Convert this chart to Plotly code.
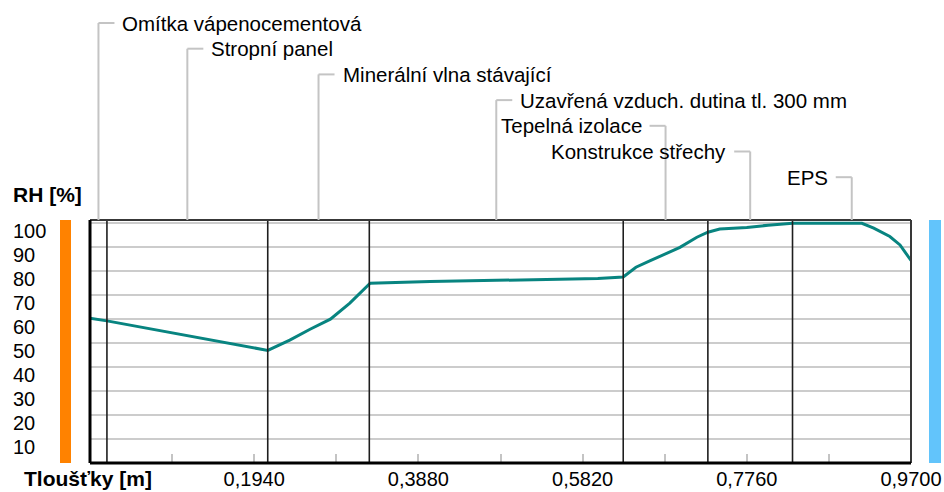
import plotly.graph_objects as go

# Layer build-up of the roof section (thickness in metres)
layer_names = [
    "Omítka vápenocementová",
    "Stropní panel",
    "Minerální vlna stávající",
    "Uzavřená vzduch. dutina tl. 300 mm",
    "Tepelná izolace",
    "Konstrukce střechy",
    "EPS",
]
layer_edges = [0.0, 0.02, 0.21, 0.33, 0.63, 0.73, 0.83, 0.97]

# Relative humidity profile through the section
depth_m = [0.000, 0.020, 0.210, 0.236, 0.260, 0.284, 0.307, 0.331,
           0.402, 0.494, 0.600, 0.630, 0.645, 0.662, 0.697, 0.717,
           0.730, 0.744, 0.776, 0.801, 0.824, 0.830, 0.912, 0.926,
           0.945, 0.957, 0.970]
rh_pct = [60.4, 59.3, 47.0, 51.3, 55.8, 60.0, 66.7, 75.0,
          75.7, 76.4, 77.0, 77.6, 81.7, 84.4, 90.0, 94.2,
          96.3, 97.6, 98.3, 99.2, 100.0, 100.0, 100.0, 98.0,
          94.5, 91.0, 84.5]

x_ticks = [0.097 * i for i in range(1, 11)]
y_ticks = [10, 20, 30, 40, 50, 60, 70, 80, 90, 100]

# Canvas geometry (pixels)
W, H = 944, 492
L, R, T, B = 90, 911, 220, 463
Y_TOP = 101.4
FONT = "Liberation Sans"


def px_x(p):
    return (p - L) / (R - L)


def px_y(p):
    return (B - p) / (B - T)


fig = go.Figure()
fig.add_trace(go.Scatter(
    x=depth_m, y=rh_pct, mode="lines",
    line=dict(color="#088480", width=3),
    hoverinfo="skip", showlegend=False,
))

shapes = []
annotations = []

# Layer boundaries
for e in layer_edges[1:-1]:
    shapes.append(dict(type="line", xref="x", yref="paper", x0=e, x1=e, y0=0, y1=1,
                       line=dict(color="#1e1e1e", width=1.6), layer="above"))

# Frame
shapes += [
    dict(type="line", xref="paper", yref="paper", x0=0, x1=1, y0=1, y1=1,
         line=dict(color="#383838", width=2)),
    dict(type="line", xref="paper", yref="paper", x0=1, x1=1, y0=0, y1=1,
         line=dict(color="#383838", width=2)),
    dict(type="line", xref="paper", yref="paper", x0=0, x1=0, y0=0, y1=1,
         line=dict(color="#000000", width=3)),
    dict(type="line", xref="paper", yref="paper", x0=0, x1=1, y0=0, y1=0,
         line=dict(color="#000000", width=3)),
]

# Side boundary-condition bars
shapes.append(dict(type="rect", xref="paper", yref="paper",
                   x0=px_x(60), x1=px_x(71), y0=px_y(463), y1=px_y(220),
                   fillcolor="#ff8200", line=dict(width=0)))
shapes.append(dict(type="rect", xref="paper", yref="paper",
                   x0=px_x(929), x1=px_x(941), y0=px_y(463), y1=px_y(220),
                   fillcolor="#62c4fb", line=dict(width=0)))

# Layer name labels with leader lines
for i, name in enumerate(layer_names):
    cx = (layer_edges[i] + layer_edges[i + 1]) / 2
    ly = px_y(23 + 25.7 * i)
    right = i < 4
    sgn = 1 if right else -1
    shapes.append(dict(type="line", xref="x", yref="paper", x0=cx, x1=cx, y0=1, y1=ly,
                       line=dict(color="#c4c4c4", width=2)))
    shapes.append(dict(type="line", xref="x", yref="paper", xsizemode="pixel", xanchor=cx,
                       x0=0, x1=16 * sgn, y0=ly, y1=ly,
                       line=dict(color="#c4c4c4", width=2)))
    annotations.append(dict(
        x=cx, y=ly, xref="x", yref="paper", text=name, showarrow=False,
        xanchor="left" if right else "right", yanchor="middle",
        xshift=22 * sgn, font=dict(family=FONT, size=20.5, color="#000"),
    ))

# Y tick labels, left aligned just below their gridlines
for v in y_ticks:
    annotations.append(dict(
        x=px_x(11), y=v, xref="paper", yref="y", text=str(v), showarrow=False,
        xanchor="left", yanchor="middle", yshift=-8,
        font=dict(family=FONT, size=20, color="#000"),
    ))

annotations.append(dict(x=px_x(11), y=px_y(194), xref="paper", yref="paper",
                        text="<b>RH [%]</b>", showarrow=False, xanchor="left",
                        yanchor="middle", font=dict(family=FONT, size=21, color="#000")))
annotations.append(dict(x=px_x(22), y=px_y(478), xref="paper", yref="paper",
                        text="<b>Tloušťky [m]</b>", showarrow=False, xanchor="left",
                        yanchor="middle", font=dict(family=FONT, size=21, color="#000")))

tick_text = [f"{v:.4f}".replace(".", ",") if i % 2 == 1 else "" for i, v in enumerate(x_ticks)]

fig.update_layout(
    width=W, height=H,
    margin=dict(l=L, r=W - R, t=T, b=H - B, pad=0, autoexpand=False),
    paper_bgcolor="white", plot_bgcolor="white",
    shapes=shapes, annotations=annotations,
    xaxis=dict(range=[0, layer_edges[-1]], tickvals=x_ticks, ticktext=tick_text,
               automargin=False, ticklabelstandoff=2,
               ticks="inside", ticklen=9, tickwidth=2, tickcolor="#c4c4c4",
               showgrid=False, zeroline=False, showline=False,
               tickfont=dict(family=FONT, size=20, color="#000")),
    yaxis=dict(range=[0, Y_TOP], tickvals=y_ticks, showticklabels=False,
               automargin=False,
               showgrid=True, gridcolor="#cccccc", gridwidth=2,
               zeroline=False, showline=False, ticks=""),
)

fig.write_html("out.html")
